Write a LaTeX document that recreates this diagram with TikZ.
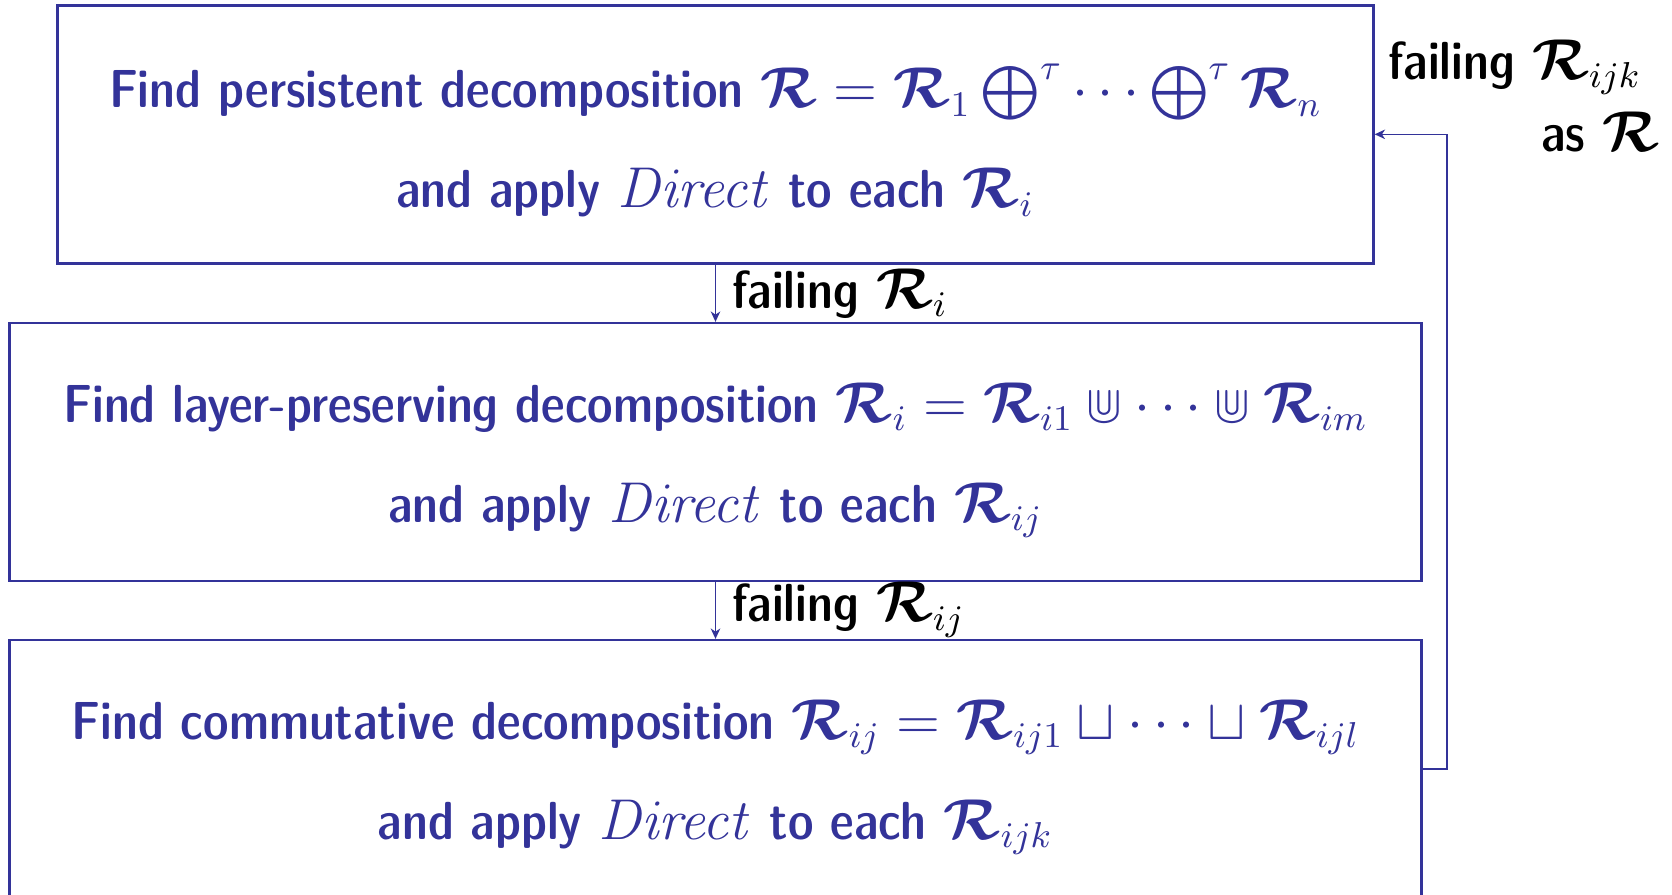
\documentclass[tikz,border=0pt]{standalone}
\usepackage{amsmath,amssymb,bm}
\usetikzlibrary{arrows.meta}
\definecolor{struct}{RGB}{51,51,153}
\newcommand{\RR}{\bm{\mathcal{R}}}
\newcommand{\Dir}{\mathit{Direct}}
\tikzset{
  stepbox/.style={draw=struct, line width=0.6pt, text=struct, inner sep=0pt,
    minimum height=64.5pt, align=center,
    font=\sffamily\fontseries{sbc}\fontsize{13.4}{25}\selectfont},
  flow/.style={draw=struct, line width=0.33pt, -{Stealth[length=2.6pt,width=2.4pt,inset=0.8pt]}},
  lbl/.style={text=black, inner sep=0pt, anchor=base west,
    font=\sffamily\fontseries{sbc}\fontsize{13.4}{18}\selectfont}
}
\begin{document}
\begin{tikzpicture}[x=0.25pt,y=-0.25pt]
\useasboundingbox (0,0) rectangle (1672,894);
\node[stepbox, minimum width=329pt] (b1) at (715.5,134.3)
  {\rule{0pt}{14pt}Find persistent decomposition $\RR=\RR_1\bigoplus^{\tau}\cdots\bigoplus^{\tau}\RR_n$\\
   and apply $\Dir$ to each $\RR_i$};
\node[stepbox, minimum width=353pt] (b2) at (715.5,452)
  {\rule{0pt}{14pt}Find layer-preserving decomposition $\RR_i=\RR_{i1}\Cup\cdots\Cup\RR_{im}$\\
   and apply $\Dir$ to each $\RR_{ij}$};
\node[stepbox, minimum width=353pt] (b3) at (715.5,769)
  {\rule{0pt}{14pt}Find commutative decomposition $\RR_{ij}=\RR_{ij1}\sqcup\cdots\sqcup\RR_{ijl}$\\
   and apply $\Dir$ to each $\RR_{ijk}$};
\coordinate (fbx) at (1447,0);
\draw[flow] (b1.south) -- (b2.north);
\draw[flow] (b2.south) -- (b3.north);
\draw[flow] (b3.east) -- (b3.east -| fbx) |- (b1.east);
\node[lbl] (l1) at (731.5,308) {failing $\RR_i$};
\node[lbl] (l2) at (731.5,621.7) {failing $\RR_{ij}$};
\node[lbl, anchor=base east, align=right] (l3) at (1660,151)
  {failing $\RR_{ijk}$\hspace*{4.5pt}\\ as $\RR$};
\end{tikzpicture}
\end{document}
